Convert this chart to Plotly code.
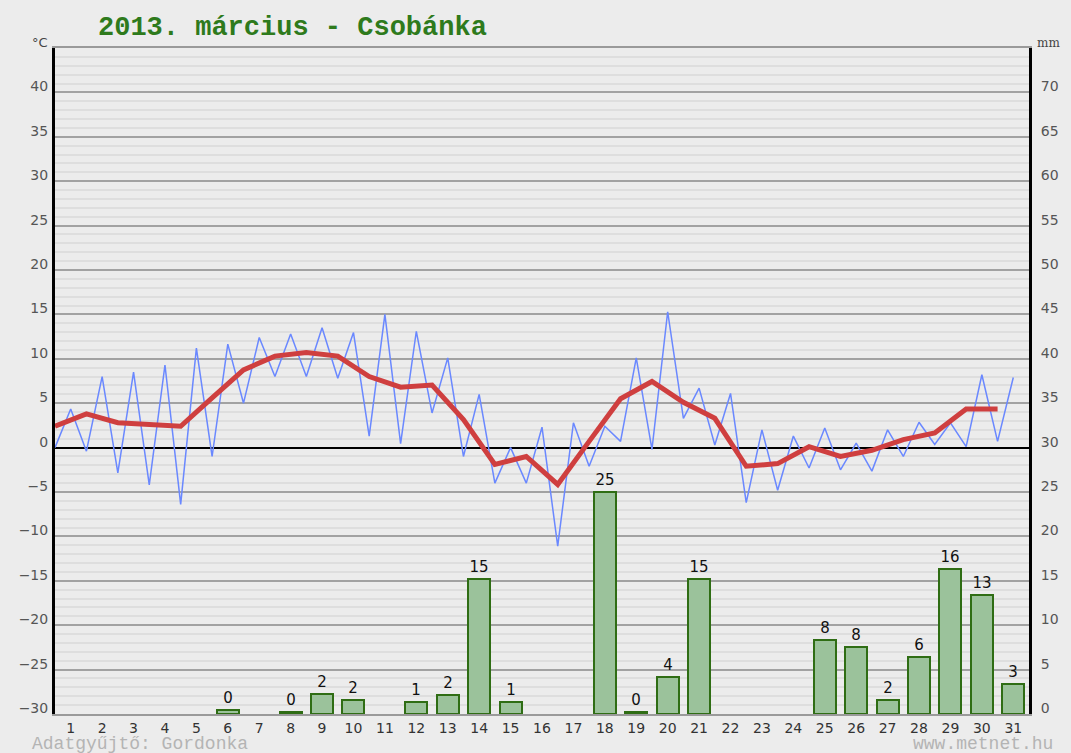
import numpy as np
import plotly.graph_objects as go

# Days of the month (x-axis categories)
days = list(range(1, 32))

# Daily precipitation in mm (None = no precipitation recorded)
precip_mm = [None, None, None, None, None, 0.4, None, 0.2, 2.3, 1.6,
             None, 1.3, 2.1, 15.2, 1.3, None, None, 25.0, 0.2, 4.2,
             15.2, None, None, None, 8.3, 7.6, 1.6, 6.4, 16.3, 13.4,
             3.4]

# Twice-daily temperature readings (°C), starting half a day before day 1
temp_readings = [0.0, 4.35, -0.4, 8.0, -2.85, 8.5, -4.2, 9.3, -6.4, 11.2,
                 -1.0, 11.65, 5.0, 12.4, 8.0, 12.8, 8.0, 13.5, 7.8, 12.95,
                 1.3, 15.0, 0.45, 13.1, 3.9, 10.1, -1.0, 6.0, -4.0, 0.0,
                 -4.0, 2.3, -11.1, 2.8, -2.1, 2.4, 0.7, 10.1, -0.2, 15.3,
                 3.3, 6.7, 0.3, 6.1, -6.2, 2.0, -4.8, 1.3, -2.3, 2.2,
                 -2.5, 0.5, -2.65, 2.0, -1.0, 2.85, 0.35, 2.8, 0.1, 8.2,
                 0.7, 7.9]

# Daily mean temperature (°C), placed between days
temp_mean = [2.4, 3.8, 2.8, 2.65, 2.4, 5.6, 8.75, 10.3, 10.7, 10.3,
             8.0, 6.8, 7.05, 3.15, -1.9, -1.0, -4.15, 0.7, 5.5, 7.45,
             5.1, 3.3, -2.1, -1.8, 0.1, -1.0, -0.3, 0.9, 1.65, 4.35,
             4.35]

temp_ticks = list(range(-30, 45, 5))
mm_ticks = list(range(0, 75, 5))

reading_x = 0.5 + 0.5 * np.arange(len(temp_readings))
mean_x = 0.5 + np.arange(len(temp_mean))

BG = "#ececec"
TICK_FONT = dict(family="DejaVu Sans", size=14, color="#555555")

fig = go.Figure()

fig.add_trace(go.Bar(
    x=days, y=precip_mm, yaxis="y", width=0.7,
    marker=dict(color="#9bc29b", line=dict(color="#2f6d14", width=2)),
    text=[None if v is None else f"{v:.0f}" for v in precip_mm],
    textposition="outside", constraintext="none", cliponaxis=False,
    textfont=dict(family="DejaVu Sans", size=15, color="#111111"),
    hoverinfo="skip",
))

fig.add_trace(go.Scatter(
    x=reading_x, y=temp_readings, yaxis="y2", mode="lines",
    line=dict(color="#6a88ff", width=1.5), hoverinfo="skip",
))

fig.add_trace(go.Scatter(
    x=mean_x, y=temp_mean, yaxis="y2", mode="lines",
    line=dict(color="#cf3f3f", width=5), hoverinfo="skip",
))

fig.update_layout(
    width=1071, height=753,
    margin=dict(l=55, r=39, t=48, b=39),
    paper_bgcolor=BG, plot_bgcolor=BG,
    showlegend=False, bargap=0,
    xaxis=dict(
        range=[0.5, 31.5], tickvals=days, ticktext=[str(d) for d in days],
        showgrid=False, zeroline=False, ticks="",
        showline=True, mirror=True, linecolor="#9a9a9a", linewidth=1.5,
        tickfont=dict(family="DejaVu Sans", size=14, color="#333333"),
    ),
    yaxis=dict(
        range=[0, 75], side="right", tickvals=mm_ticks,
        showgrid=False, zeroline=False, ticks="",
        showline=True, linecolor="#000000", linewidth=3,
        tickfont=TICK_FONT, ticklabelshift=-6, ticklabelstandoff=6,
    ),
    yaxis2=dict(
        range=[-30, 45], overlaying="y", side="left", tickvals=temp_ticks,
        showgrid=True, gridcolor="#a2a2a2", gridwidth=1.5,
        minor=dict(dtick=1, showgrid=True, gridcolor="#dedede", gridwidth=1.5),
        zeroline=True, zerolinecolor="#000000", zerolinewidth=1.5,
        ticks="", showline=True, linecolor="#000000", linewidth=3,
        tickfont=TICK_FONT, ticklabelshift=-6, ticklabelstandoff=1,
    ),
)

def px_x(px):
    return (px - 55) / 977.0

def px_y(py):
    return (714 - py) / 666.0

annotations = [
    dict(text="<b>2013. március - Csobánka</b>", x=px_x(96), y=px_y(28),
         xanchor="left", yanchor="middle",
         font=dict(family="Liberation Mono", size=27, color="#2e7a1c")),
    dict(text="°C", x=px_x(40), y=px_y(42), xanchor="center", yanchor="middle",
         font=dict(family="DejaVu Sans", size=13, color="#444444")),
    dict(text="mm", x=px_x(1052), y=px_y(43), xanchor="center", yanchor="middle",
         font=dict(family="DejaVu Serif", size=12, color="#444444")),
    dict(text="Adatgyűjtő: Gordonka", x=px_x(30), y=px_y(744),
         xanchor="left", yanchor="middle",
         font=dict(family="Liberation Mono", size=18, color="#b4b4b4")),
    dict(text="www.metnet.hu", x=px_x(1058), y=px_y(744),
         xanchor="right", yanchor="middle",
         font=dict(family="Liberation Mono", size=18, color="#b4b4b4")),
]
for a in annotations:
    a.update(xref="paper", yref="paper", showarrow=False)
fig.update_layout(annotations=annotations)

fig.write_html("out.html")
